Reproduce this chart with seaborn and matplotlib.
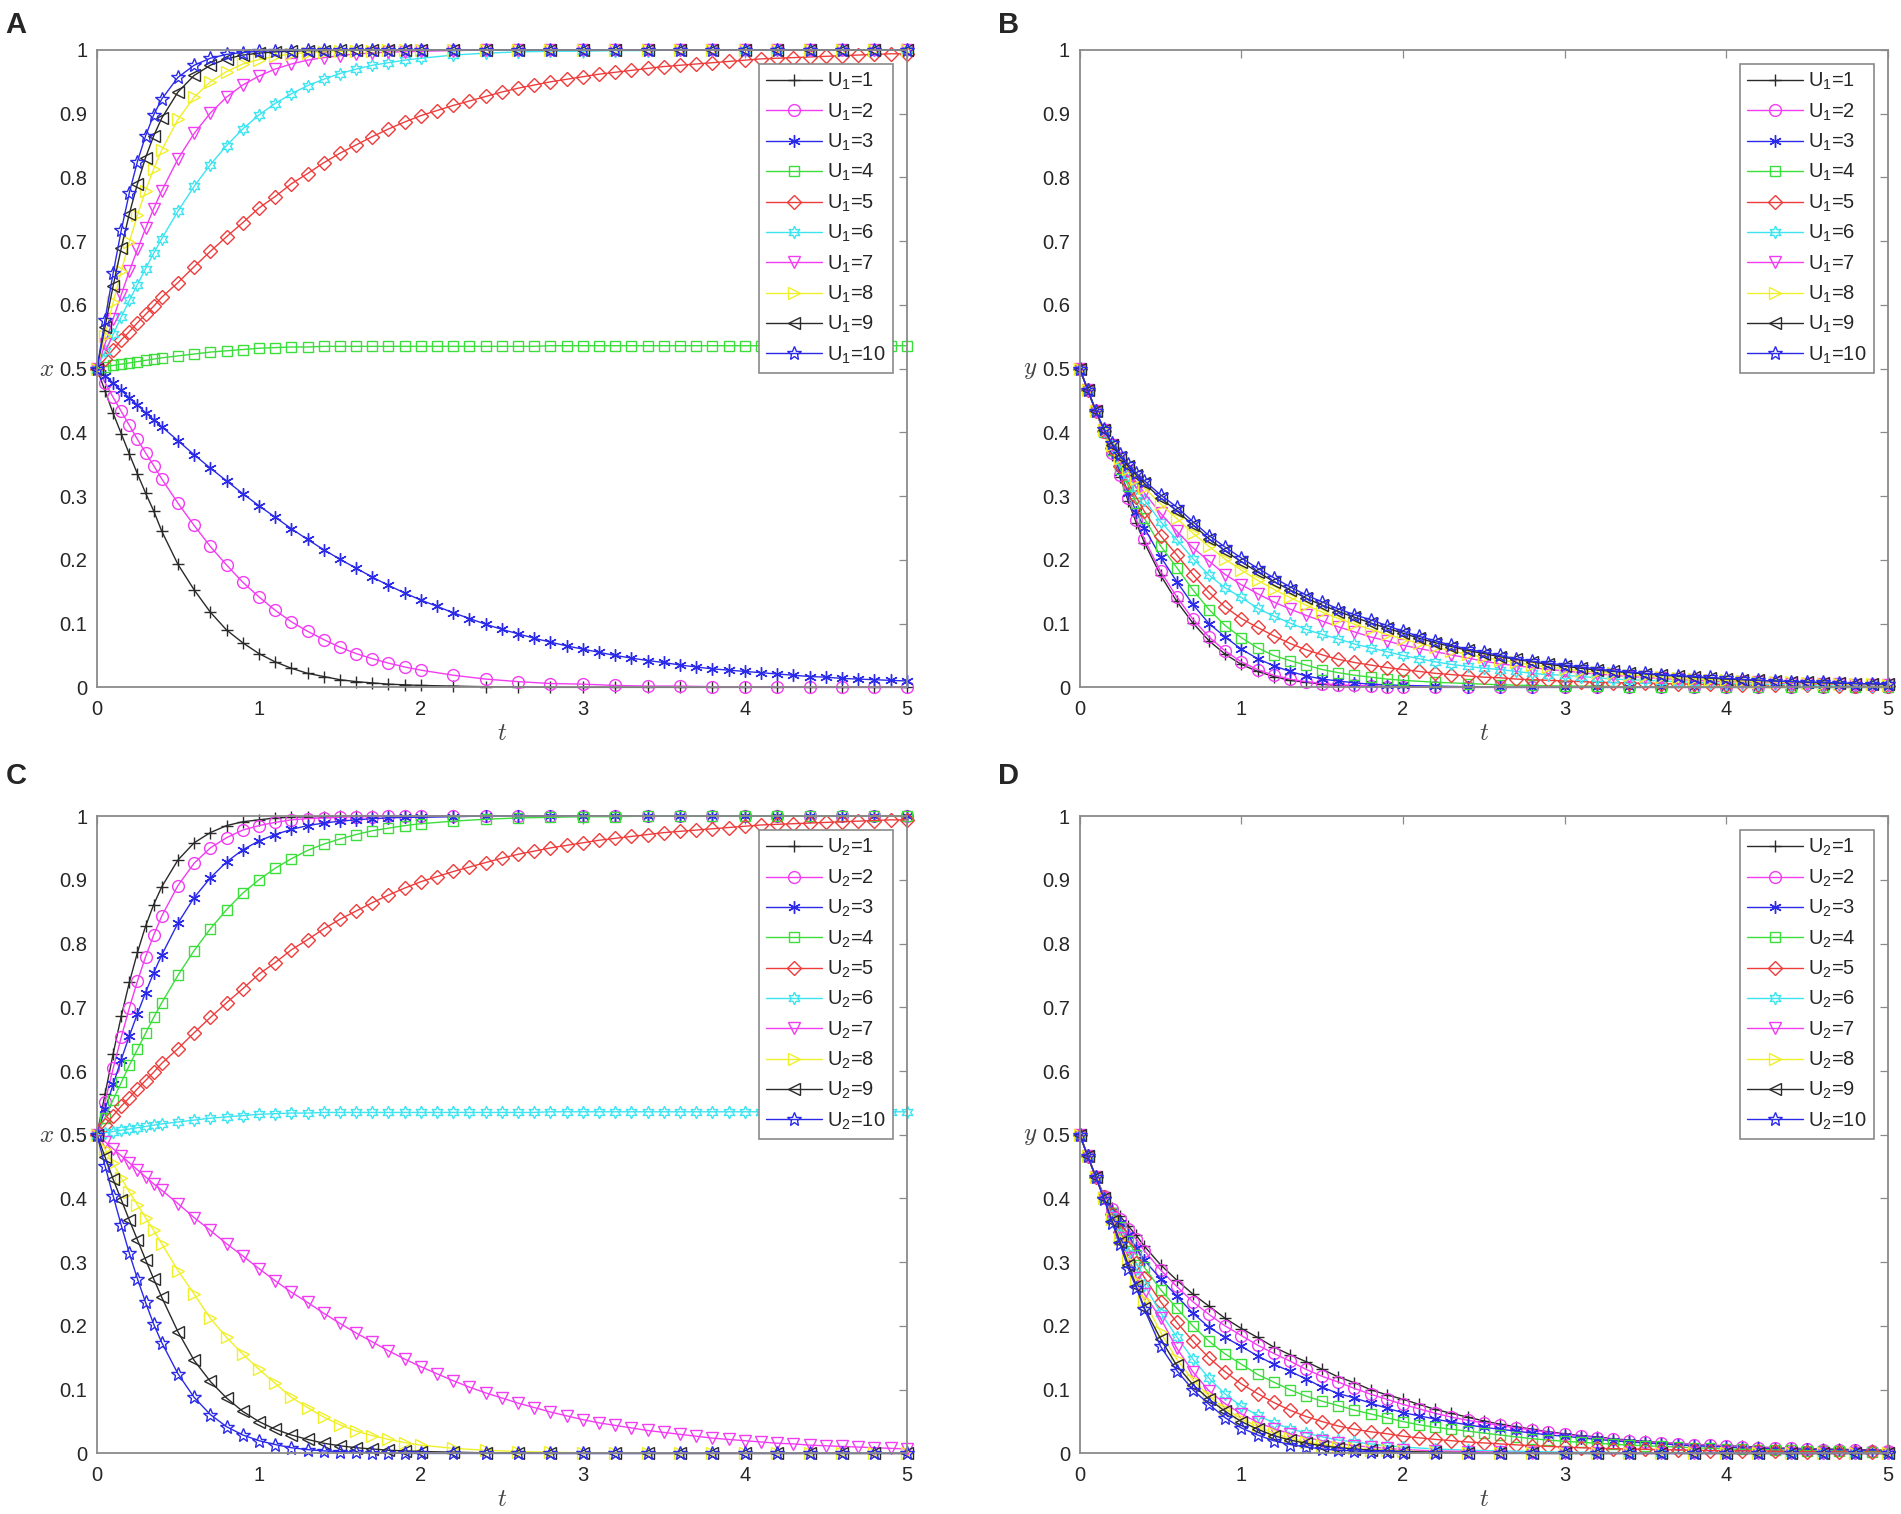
import matplotlib
matplotlib.use("Agg")
import matplotlib.pyplot as plt
import seaborn as sns

# time points: coarse grid for curves that settle early, fine grid for slow ones
t = [0, 0.05, 0.1, 0.15, 0.2, 0.25, 0.3, 0.35, 0.4,
     0.5, 0.6, 0.7, 0.8, 0.9, 1.0, 1.1, 1.2, 1.3, 1.4, 1.5, 1.6, 1.7, 1.8, 1.9, 2.0,
     2.2, 2.4, 2.6, 2.8, 3.0, 3.2, 3.4, 3.6, 3.8, 4.0, 4.2, 4.4, 4.6, 4.8, 5.0]
t_fine = [0, 0.05, 0.1, 0.15, 0.2, 0.25, 0.3, 0.35, 0.4,
          0.5, 0.6, 0.7, 0.8, 0.9, 1.0, 1.1, 1.2, 1.3, 1.4, 1.5, 1.6, 1.7, 1.8, 1.9,
          2.0, 2.1, 2.2, 2.3, 2.4, 2.5, 2.6, 2.7, 2.8, 2.9, 3.0, 3.1, 3.2, 3.3, 3.4, 3.5,
          3.6, 3.7, 3.8, 3.9, 4.0, 4.1, 4.2, 4.3, 4.4, 4.5, 4.6, 4.7, 4.8, 4.9, 5.0]

# panel A: x(t) for U1 = 1..10
a1 = [0.5, 0.465, 0.43, 0.398, 0.366, 0.335, 0.305, 0.277, 0.245, 0.193, 0.153, 0.118, 0.09, 0.07,
      0.053, 0.04, 0.03, 0.022, 0.017, 0.012, 0.009, 0.007, 0.005, 0.004, 0.003, 0.002, 0.001, 0.001] + [0.0] * 12
a2 = [0.5, 0.478, 0.455, 0.433, 0.411, 0.389, 0.368, 0.348, 0.327, 0.289, 0.254, 0.221, 0.192, 0.165,
      0.142, 0.121, 0.103, 0.088, 0.075, 0.063, 0.053, 0.045, 0.038, 0.032, 0.027, 0.019, 0.013, 0.009,
      0.006, 0.005, 0.003, 0.002, 0.002, 0.001, 0.001, 0.001, 0.0, 0.0, 0.0, 0.0]
a3 = [0.5, 0.489, 0.477, 0.466, 0.454, 0.443, 0.431, 0.420, 0.409, 0.387, 0.365, 0.344, 0.324, 0.304,
      0.285, 0.267, 0.249, 0.232, 0.216, 0.201, 0.187, 0.173, 0.160, 0.148] + \
     [0.137, 0.127, 0.117, 0.108, 0.099, 0.091, 0.084, 0.077, 0.071, 0.065, 0.060, 0.055, 0.050, 0.046,
      0.042, 0.039, 0.035, 0.032, 0.029, 0.027, 0.025, 0.023, 0.021, 0.019, 0.017, 0.016, 0.014, 0.013,
      0.012, 0.011, 0.010]
a4 = [0.5, 0.503, 0.505, 0.507, 0.509, 0.511, 0.513, 0.515, 0.517, 0.520, 0.523, 0.526, 0.528, 0.530,
      0.532, 0.533, 0.534, 0.534, 0.535, 0.535, 0.535, 0.535, 0.535, 0.535] + [0.535] * 8 + [0.536] * 23
a5 = [0.5, 0.515, 0.530, 0.545, 0.558, 0.572, 0.585, 0.598, 0.612, 0.635, 0.660, 0.684, 0.707, 0.729,
      0.752, 0.770, 0.790, 0.806, 0.823, 0.838, 0.851, 0.864, 0.876, 0.887] + \
     [0.897, 0.905, 0.913, 0.920, 0.927, 0.934, 0.940, 0.945, 0.950, 0.954, 0.958, 0.962, 0.965, 0.968,
      0.971, 0.974, 0.976, 0.978, 0.980, 0.982, 0.984, 0.986, 0.987, 0.988, 0.989, 0.990, 0.991, 0.992,
      0.993, 0.994, 0.994]
a6 = [0.5, 0.527, 0.554, 0.581, 0.607, 0.632, 0.657, 0.681, 0.704, 0.747, 0.786, 0.820, 0.850, 0.876,
      0.898, 0.916, 0.931, 0.944, 0.954, 0.963, 0.970, 0.976, 0.980, 0.984, 0.987, 0.992, 0.995, 0.997,
      0.998, 0.998, 0.999, 0.999] + [1.0] * 8
a7 = [0.5, 0.539, 0.578, 0.616, 0.653, 0.687, 0.720, 0.751, 0.779, 0.829, 0.869, 0.901, 0.926, 0.945,
      0.959, 0.970, 0.978, 0.984, 0.988, 0.991, 0.994, 0.995, 0.997, 0.997, 0.998, 0.999] + [1.0] * 14
a8 = [0.5, 0.552, 0.604, 0.653, 0.699, 0.741, 0.779, 0.813, 0.843, 0.891, 0.926, 0.950, 0.966, 0.978,
      0.985, 0.990, 0.994, 0.996, 0.997, 0.998, 0.999, 0.999] + [1.0] * 18
a9 = [0.5, 0.566, 0.630, 0.689, 0.743, 0.790, 0.831, 0.865, 0.893, 0.934, 0.960, 0.976, 0.986, 0.992,
      0.995, 0.997, 0.998, 0.999, 0.999] + [1.0] * 21
a10 = [0.5, 0.577, 0.650, 0.717, 0.776, 0.825, 0.865, 0.898, 0.923, 0.957, 0.976, 0.987, 0.993, 0.996,
       0.998, 0.999, 0.999] + [1.0] * 23

# panel B: y(t) for U1 = 1..10
b1 = [0.5, 0.466, 0.433, 0.400, 0.365, 0.330, 0.292, 0.258, 0.227, 0.176, 0.135, 0.101, 0.073, 0.052,
      0.036, 0.025, 0.017, 0.011, 0.008, 0.005, 0.003, 0.002, 0.002, 0.001, 0.001] + [0.0] * 15
b2 = [0.5, 0.466, 0.433, 0.401, 0.367, 0.333, 0.297, 0.263, 0.232, 0.182, 0.142, 0.107, 0.079, 0.057,
      0.040, 0.028, 0.019, 0.013, 0.009, 0.006, 0.004, 0.003, 0.002, 0.001, 0.001] + [0.0] * 15
b3 = [0.5, 0.466, 0.433, 0.401, 0.370, 0.338, 0.305, 0.275, 0.250, 0.205, 0.166, 0.130, 0.100, 0.079,
      0.060, 0.045, 0.034, 0.025, 0.018, 0.013, 0.010, 0.007, 0.005, 0.004, 0.003, 0.002, 0.001] + [0.0] * 13
b4 = [0.5, 0.466, 0.433, 0.401, 0.372, 0.343, 0.316, 0.290, 0.265, 0.222, 0.188, 0.153, 0.122, 0.097,
      0.078, 0.062, 0.050, 0.042, 0.035, 0.028, 0.023, 0.019, 0.016, 0.013, 0.011, 0.008, 0.006, 0.004,
      0.003, 0.002, 0.002, 0.001, 0.001, 0.001, 0.0, 0.0, 0.0, 0.0, 0.0, 0.0]
b5 = [0.5, 0.466, 0.433, 0.402, 0.375, 0.348, 0.322, 0.298, 0.276, 0.238, 0.208, 0.177, 0.149, 0.126,
      0.108, 0.094, 0.081, 0.069, 0.059, 0.051, 0.044, 0.039, 0.035, 0.031] + \
     [0.028, 0.025, 0.022, 0.020, 0.018, 0.016, 0.015, 0.013, 0.012, 0.011, 0.010, 0.009, 0.008, 0.0075,
      0.007, 0.0065, 0.006, 0.0055, 0.005, 0.0045, 0.004, 0.004, 0.004, 0.0035, 0.003, 0.003, 0.003,
      0.0025, 0.002, 0.002, 0.002]
b6 = [0.5, 0.466, 0.433, 0.402, 0.378, 0.355, 0.333, 0.313, 0.294, 0.260, 0.232, 0.202, 0.176, 0.156,
      0.141, 0.124, 0.112, 0.101, 0.091, 0.083, 0.076, 0.068, 0.062, 0.056] + \
     [0.050, 0.045, 0.040, 0.036, 0.033, 0.030, 0.028, 0.025, 0.022, 0.020, 0.019, 0.017, 0.015, 0.013,
      0.012, 0.011, 0.010, 0.009, 0.008, 0.007, 0.006, 0.0055, 0.005, 0.0045, 0.004, 0.0035, 0.003,
      0.003, 0.003, 0.0025, 0.002]
b7 = [0.5, 0.466, 0.433, 0.403, 0.380, 0.360, 0.340, 0.322, 0.305, 0.273, 0.245, 0.219, 0.198, 0.177,
      0.161, 0.147, 0.134, 0.123, 0.113, 0.104, 0.095, 0.087, 0.079, 0.073] + \
     [0.066, 0.061, 0.056, 0.051, 0.046, 0.041, 0.037, 0.034, 0.031, 0.028, 0.026, 0.023, 0.021, 0.019,
      0.017, 0.0155, 0.014, 0.0125, 0.011, 0.010, 0.009, 0.0085, 0.008, 0.007, 0.006, 0.0055, 0.005,
      0.0045, 0.004, 0.004, 0.004]
b8 = [0.5, 0.466, 0.433, 0.403, 0.381, 0.360, 0.342, 0.327, 0.313, 0.288, 0.265, 0.242, 0.221, 0.201,
      0.184, 0.168, 0.154, 0.141, 0.129, 0.118, 0.108, 0.099, 0.091, 0.083] + \
     [0.076, 0.069, 0.063, 0.057, 0.052, 0.047, 0.043, 0.039, 0.035, 0.032, 0.029, 0.026, 0.024, 0.022,
      0.020, 0.018, 0.016, 0.0145, 0.013, 0.012, 0.011, 0.010, 0.009, 0.0085, 0.008, 0.007, 0.006,
      0.0055, 0.005, 0.0045, 0.004]
b9 = [0.5, 0.466, 0.433, 0.404, 0.381, 0.362, 0.347, 0.333, 0.320, 0.297, 0.277, 0.255, 0.233, 0.214,
      0.197, 0.181, 0.166, 0.153, 0.140, 0.129, 0.119, 0.110, 0.101, 0.093] + \
     [0.085, 0.077, 0.070, 0.064, 0.058, 0.053, 0.048, 0.044, 0.040, 0.036, 0.033, 0.030, 0.027, 0.025,
      0.023, 0.021, 0.019, 0.0175, 0.016, 0.0145, 0.013, 0.012, 0.011, 0.010, 0.009, 0.008, 0.007,
      0.0065, 0.006, 0.0055, 0.005]
b10 = [0.5, 0.466, 0.434, 0.405, 0.383, 0.366, 0.350, 0.336, 0.324, 0.302, 0.283, 0.260, 0.238, 0.220,
       0.203, 0.187, 0.172, 0.158, 0.145, 0.134, 0.123, 0.114, 0.106, 0.097] + \
      [0.088, 0.080, 0.073, 0.066, 0.060, 0.055, 0.050, 0.045, 0.041, 0.038, 0.035, 0.032, 0.029, 0.026,
       0.024, 0.022, 0.020, 0.0185, 0.017, 0.0155, 0.014, 0.0125, 0.011, 0.010, 0.009, 0.0085, 0.008,
       0.007, 0.006, 0.0055, 0.005]

# panel C: x(t) for U2 = 1..10
c1 = [0.5, 0.564, 0.627, 0.686, 0.739, 0.786, 0.827, 0.861, 0.889, 0.931, 0.958, 0.974, 0.985, 0.991,
      0.994, 0.997, 0.998, 0.999, 0.999] + [1.0] * 21
c2 = [0.5, 0.552, 0.604, 0.653, 0.699, 0.741, 0.779, 0.813, 0.843, 0.891, 0.926, 0.950, 0.966, 0.978,
      0.985, 0.990, 0.994, 0.996, 0.997, 0.998, 0.999, 0.999] + [1.0] * 18
c3 = [0.5, 0.540, 0.579, 0.618, 0.655, 0.690, 0.723, 0.754, 0.782, 0.832, 0.872, 0.903, 0.928, 0.947,
      0.961, 0.971, 0.979, 0.985, 0.989, 0.992, 0.994, 0.996, 0.997, 0.998, 0.998, 0.999] + [1.0] * 14
c4 = [0.5, 0.527, 0.555, 0.582, 0.609, 0.634, 0.659, 0.684, 0.707, 0.750, 0.789, 0.823, 0.853, 0.879,
      0.900, 0.918, 0.933, 0.946, 0.956, 0.964, 0.971, 0.977, 0.981, 0.985, 0.988, 0.992, 0.995, 0.997,
      0.998, 0.999, 0.999] + [1.0] * 9
c5 = [0.5, 0.515, 0.530, 0.545, 0.558, 0.572, 0.585, 0.598, 0.612, 0.635, 0.660, 0.684, 0.707, 0.729,
      0.752, 0.770, 0.790, 0.806, 0.823, 0.838, 0.851, 0.864, 0.876, 0.887] + \
     [0.897, 0.905, 0.913, 0.920, 0.927, 0.934, 0.940, 0.945, 0.950, 0.954, 0.958, 0.962, 0.965, 0.968,
      0.971, 0.974, 0.976, 0.978, 0.980, 0.982, 0.984, 0.986, 0.987, 0.988, 0.989, 0.990, 0.991, 0.992,
      0.993, 0.994, 0.994]
c6 = [0.5, 0.503, 0.505, 0.507, 0.509, 0.511, 0.513, 0.515, 0.517, 0.520, 0.523, 0.526, 0.528, 0.530,
      0.532, 0.533, 0.534, 0.534, 0.535, 0.535, 0.535, 0.535, 0.535, 0.535] + [0.535] * 8 + [0.536] * 23
c7 = [0.5, 0.489, 0.478, 0.467, 0.456, 0.445, 0.434, 0.423, 0.413, 0.392, 0.370, 0.350, 0.329, 0.310,
      0.290, 0.271, 0.253, 0.237, 0.220, 0.204, 0.189, 0.175, 0.161, 0.148] + \
     [0.136, 0.125, 0.114, 0.104, 0.095, 0.087, 0.079, 0.072, 0.065, 0.059, 0.053, 0.048, 0.044, 0.040,
      0.036, 0.033, 0.030, 0.027, 0.024, 0.022, 0.020, 0.018, 0.016, 0.015, 0.013, 0.012, 0.011, 0.010,
      0.009, 0.008, 0.007]
c8 = [0.5, 0.477, 0.455, 0.432, 0.410, 0.390, 0.370, 0.350, 0.329, 0.287, 0.250, 0.212, 0.182, 0.156,
      0.132, 0.110, 0.088, 0.072, 0.057, 0.045, 0.035, 0.028, 0.022, 0.017, 0.013, 0.008, 0.005, 0.003,
      0.002, 0.001, 0.001] + [0.0] * 9
c9 = [0.5, 0.465, 0.43, 0.398, 0.366, 0.335, 0.304, 0.274, 0.245, 0.191, 0.146, 0.113, 0.087, 0.066,
      0.05, 0.038, 0.029, 0.022, 0.016, 0.012, 0.009, 0.007, 0.005, 0.004, 0.003, 0.002, 0.001, 0.001] + [0.0] * 12
c10 = [0.5, 0.451, 0.404, 0.358, 0.314, 0.274, 0.237, 0.203, 0.174, 0.125, 0.088, 0.061, 0.042, 0.029,
       0.02, 0.014, 0.009, 0.006, 0.004, 0.003, 0.002, 0.001, 0.001] + [0.0] * 17

# panel D: y(t) for U2 = 1..10
d1 = [0.5, 0.466, 0.434, 0.404, 0.385, 0.372, 0.357, 0.342, 0.325, 0.296, 0.272, 0.250, 0.231, 0.212,
      0.196, 0.182, 0.167, 0.155, 0.144, 0.132, 0.120, 0.111, 0.100, 0.092] + \
     [0.085, 0.077, 0.069, 0.063, 0.057, 0.051, 0.046, 0.042, 0.038, 0.034, 0.031, 0.028, 0.026, 0.023,
      0.021, 0.019, 0.017, 0.0155, 0.014, 0.013, 0.012, 0.011, 0.010, 0.009, 0.008, 0.0075, 0.007,
      0.0065, 0.006, 0.0055, 0.005]
d2 = [0.5, 0.466, 0.434, 0.404, 0.383, 0.368, 0.352, 0.336, 0.318, 0.288, 0.262, 0.238, 0.218, 0.200,
      0.185, 0.170, 0.157, 0.145, 0.132, 0.121, 0.112, 0.102, 0.093, 0.085] + \
     [0.077, 0.070, 0.063, 0.057, 0.052, 0.048, 0.044, 0.040, 0.037, 0.033, 0.030, 0.027, 0.025, 0.022,
      0.020, 0.018, 0.017, 0.0155, 0.014, 0.0125, 0.011, 0.010, 0.009, 0.0085, 0.008, 0.007, 0.006,
      0.0055, 0.005, 0.0045, 0.004]
d3 = [0.5, 0.466, 0.434, 0.403, 0.380, 0.362, 0.343, 0.322, 0.303, 0.274, 0.247, 0.220, 0.198, 0.182,
      0.168, 0.153, 0.140, 0.129, 0.117, 0.104, 0.094, 0.087, 0.079, 0.071] + \
     [0.064, 0.059, 0.054, 0.049, 0.045, 0.041, 0.038, 0.035, 0.032, 0.029, 0.027, 0.0245, 0.022, 0.020,
      0.018, 0.0165, 0.015, 0.0135, 0.012, 0.011, 0.010, 0.009, 0.008, 0.0075, 0.007, 0.0065, 0.006,
      0.0055, 0.005, 0.0045, 0.004]
d4 = [0.5, 0.466, 0.433, 0.402, 0.378, 0.355, 0.333, 0.312, 0.292, 0.257, 0.228, 0.200, 0.176, 0.156,
      0.140, 0.124, 0.112, 0.100, 0.090, 0.082, 0.075, 0.068, 0.062, 0.056] + \
     [0.050, 0.045, 0.041, 0.038, 0.035, 0.032, 0.029, 0.026, 0.023, 0.021, 0.019, 0.0175, 0.016, 0.0145,
      0.013, 0.012, 0.011, 0.010, 0.009, 0.008, 0.007, 0.0065, 0.006, 0.0055, 0.005, 0.0045, 0.004,
      0.0035, 0.003, 0.003, 0.003]
d5 = [0.5, 0.466, 0.433, 0.402, 0.375, 0.348, 0.322, 0.298, 0.276, 0.238, 0.206, 0.176, 0.150, 0.128,
      0.109, 0.094, 0.080, 0.068, 0.058, 0.050, 0.043, 0.038, 0.034, 0.031] + \
     [0.027, 0.0245, 0.022, 0.020, 0.018, 0.0165, 0.015, 0.0135, 0.012, 0.011, 0.010, 0.009, 0.008, 0.0075,
      0.007, 0.0065, 0.006, 0.0055, 0.005, 0.0045, 0.004, 0.004, 0.004, 0.0035, 0.003, 0.003, 0.003,
      0.0025, 0.002, 0.002, 0.002]
d6 = [0.5, 0.466, 0.433, 0.401, 0.372, 0.343, 0.315, 0.289, 0.264, 0.221, 0.183, 0.148, 0.118, 0.093,
      0.074, 0.060, 0.048, 0.039, 0.032, 0.026, 0.021, 0.018, 0.015, 0.012, 0.010, 0.007, 0.005, 0.004,
      0.003, 0.002, 0.002, 0.001, 0.001, 0.001, 0.0, 0.0, 0.0, 0.0, 0.0, 0.0]
d7 = [0.5, 0.466, 0.433, 0.401, 0.370, 0.338, 0.306, 0.276, 0.250, 0.212, 0.165, 0.128, 0.098, 0.078,
      0.062, 0.049, 0.039, 0.031, 0.025, 0.020, 0.016, 0.012, 0.010, 0.008, 0.006, 0.004, 0.003, 0.002,
      0.001, 0.001] + [0.0] * 10
d8 = [0.5, 0.466, 0.433, 0.400, 0.368, 0.336, 0.302, 0.270, 0.240, 0.190, 0.148, 0.115, 0.090, 0.070,
      0.054, 0.042, 0.032, 0.024, 0.018, 0.014, 0.010, 0.008, 0.006, 0.005, 0.004, 0.002, 0.001] + [0.0] * 13
d9 = [0.5, 0.466, 0.433, 0.400, 0.365, 0.332, 0.296, 0.262, 0.228, 0.180, 0.138, 0.108, 0.085, 0.066,
      0.050, 0.038, 0.028, 0.021, 0.016, 0.012, 0.009, 0.007, 0.005, 0.004, 0.003, 0.002, 0.001, 0.001] + [0.0] * 12
d10 = [0.5, 0.466, 0.433, 0.399, 0.362, 0.328, 0.290, 0.260, 0.226, 0.168, 0.130, 0.100, 0.077, 0.056,
       0.040, 0.029, 0.020, 0.014, 0.010, 0.007, 0.005, 0.004, 0.003, 0.002, 0.001, 0.001] + [0.0] * 14

u_values = [1, 2, 3, 4, 5, 6, 7, 8, 9, 10]
xtick_labels = ["0", "1", "2", "3", "4", "5"]
ytick_values = [0, 0.1, 0.2, 0.3, 0.4, 0.5, 0.6, 0.7, 0.8, 0.9, 1]
ytick_labels = ["0", "0.1", "0.2", "0.3", "0.4", "0.5", "0.6", "0.7", "0.8", "0.9", "1"]

# matlab style line specs
colors = ["#2a2a2a", "#f23cf2", "#2a2ae8", "#3cde3c", "#ee3c3c",
          "#3ce4f0", "#f23cf2", "#f0f02a", "#2a2a2a", "#2a2ae8"]
markers = ["+", "o", (6, 2, 0), "s", "D", (6, 1, 0), "v", ">", "<", "*"]
msizes = [9, 8.5, 9, 7, 7, 9, 8.5, 8.5, 8.5, 10]

panels = [
    ("A", "x", "1", [a1, a2, a3, a4, a5, a6, a7, a8, a9, a10], [0.051, 0.546, 0.426, 0.421]),
    ("B", "y", "1", [b1, b2, b3, b4, b5, b6, b7, b8, b9, b10], [0.568, 0.546, 0.425, 0.421]),
    ("C", "x", "2", [c1, c2, c3, c4, c5, c6, c7, c8, c9, c10], [0.051, 0.040, 0.426, 0.421]),
    ("D", "y", "2", [d1, d2, d3, d4, d5, d6, d7, d8, d9, d10], [0.568, 0.040, 0.425, 0.421]),
]
letter_pos = {"A": (0.003, 0.993), "B": (0.525, 0.993), "C": (0.003, 0.497), "D": (0.525, 0.497)}

sns.set_style("white")
plt.rcParams["font.family"] = ["Liberation Sans", "DejaVu Sans"]
plt.rcParams["mathtext.fontset"] = "cm"

fig = plt.figure(figsize=(19.01, 15.14), dpi=100)

for letter, var, sub, series, pos in panels:
    ax = fig.add_axes(pos)
    for i, vals in enumerate(series):
        tt = t_fine if len(vals) == len(t_fine) else t
        sns.lineplot(x=tt, y=vals, ax=ax, sort=False, estimator=None,
                     color=colors[i], lw=1.0, marker=markers[i], markersize=msizes[i],
                     mfc="none", mec=colors[i], mew=1.0, clip_on=False,
                     label=f"$\\mathregular{{U_{sub}}}$={u_values[i]}")

    ax.set_xlim(0, 5)
    ax.set_ylim(0, 1)
    ax.set_xticks(range(6))
    ax.set_xticklabels(xtick_labels)
    ax.set_yticks(ytick_values)
    ax.set_yticklabels(ytick_labels)
    ax.tick_params(direction="in", top=True, right=True, length=6, width=0.9,
                   color="#8a8a8a", labelsize=14.5, labelcolor="#262626")
    ax.tick_params(axis="x", pad=9)
    ax.tick_params(axis="y", pad=7)
    for sp in ax.spines.values():
        sp.set_color("#8a8a8a")
        sp.set_linewidth(1.3)

    ax.set_xlabel("$t$", fontsize=18, color="#444444", va="center")
    ax.xaxis.set_label_coords(0.5, -0.072)
    ax.set_ylabel(f"${var}$", fontsize=18, rotation=0, color="#444444")
    ax.yaxis.set_label_coords(-0.062, 0.5)
    ax.yaxis.label.set_va("center")
    ax.yaxis.label.set_ha("center")

    leg = ax.legend(loc="upper right", fontsize=14.5, frameon=True, fancybox=False,
                    framealpha=1, edgecolor="#8a8a8a", borderaxespad=0.7,
                    handlelength=2.8, handletextpad=0.25, labelspacing=0.45,
                    borderpad=0.35, numpoints=1)
    leg.get_frame().set_linewidth(1.2)

    lx, ly = letter_pos[letter]
    fig.text(lx, ly, letter, fontsize=21, fontweight="bold", ha="left", va="top")

fig.savefig("out.png", dpi=100)
